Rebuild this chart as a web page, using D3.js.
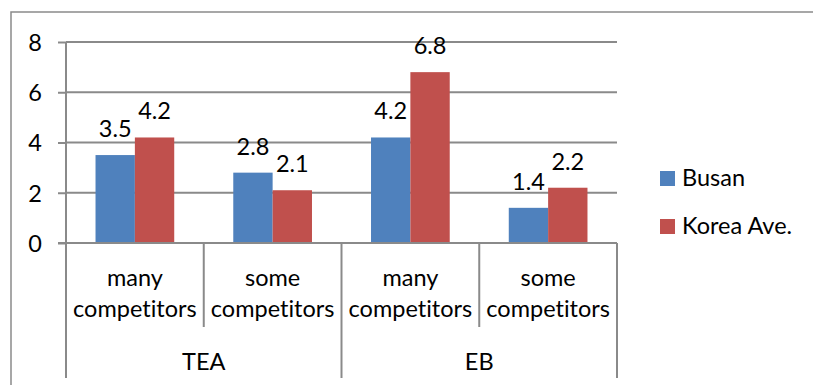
<!DOCTYPE html>
<html>
<head>
<meta charset="utf-8">
<script src="https://cdn.jsdelivr.net/npm/d3@7"></script>
<style>
  html, body { margin: 0; padding: 0; background: #fff; }
  svg { display: block; }
  text { font-family: Lato, "Open Sans", sans-serif; fill: #000; font-variant-ligatures: none; }
</style>
</head>
<body>
<svg id="chart" width="813" height="385"></svg>
<script>
// Chart data
const groups = ["TEA", "EB"];
const subLines = [["many", "competitors"], ["some", "competitors"], ["many", "competitors"], ["some", "competitors"]];
const categories = ["TEA|many", "TEA|some", "EB|many", "EB|some"];
const seriesNames = ["Busan", "Korea Ave."];
const busan = [3.5, 2.8, 4.2, 1.4];
const koreaAve = [4.2, 2.1, 6.8, 2.2];
const yTicks = [0, 2, 4, 6, 8];
const colors = ["#4F81BD", "#C0504D"];

const svg = d3.select("#chart");
const W = 813, H = 385;
const fontSize = 23.5;
const gridColor = "#8a8a8a";

// Chart frame
svg.append("rect")
  .attr("x", 11).attr("y", 12)
  .attr("width", W + 20).attr("height", H + 20)
  .attr("fill", "none").attr("stroke", gridColor).attr("stroke-width", 1.5);

const plot = { left: 66, right: 617, top: 42, bottom: 243 };

const x0 = d3.scaleBand().domain(categories).range([plot.left, plot.right]).padding(0);
const x1 = d3.scaleBand().domain(seriesNames).range([0, x0.bandwidth()])
  .paddingInner(0).paddingOuter(0.75);
const y = d3.scaleLinear().domain([0, 8]).range([plot.bottom, plot.top]);

// Horizontal gridlines
svg.append("g").selectAll("line").data(yTicks.filter(d => d > 0)).join("line")
  .attr("x1", plot.left).attr("x2", plot.right)
  .attr("y1", d => y(d)).attr("y2", d => y(d))
  .attr("stroke", gridColor).attr("stroke-width", 2);

// Value axis
const yAxis = svg.append("g")
  .attr("transform", `translate(${plot.left},0)`)
  .call(d3.axisLeft(y).tickValues(yTicks).tickSize(8).tickPadding(16).tickFormat(d3.format("d")));
yAxis.select(".domain").remove();
yAxis.selectAll(".tick line").attr("stroke", gridColor).attr("stroke-width", 2);
yAxis.selectAll(".tick text").attr("font-size", fontSize).attr("font-family", "Lato").attr("fill", "#000")
  .attr("dy", "0.36em");

// Bars
const rows = categories.map((c, i) => ({ cat: c, vals: [busan[i], koreaAve[i]] }));
const barG = svg.append("g").selectAll("g").data(rows).join("g")
  .attr("transform", d => `translate(${x0(d.cat)},0)`);

barG.selectAll("rect").data(d => d.vals.map((v, j) => ({ v, s: seriesNames[j], j }))).join("rect")
  .attr("x", d => x1(d.s))
  .attr("width", x1.bandwidth())
  .attr("y", d => y(d.v))
  .attr("height", d => y(0) - y(d.v))
  .attr("fill", d => colors[d.j]);

// Value labels
barG.selectAll("text").data(d => d.vals.map((v, j) => ({ v, s: seriesNames[j] }))).join("text")
  .attr("x", d => x1(d.s) + x1.bandwidth() / 2)
  .attr("y", d => y(d.v) - 18)
  .attr("text-anchor", "middle")
  .attr("font-size", fontSize)
  .text(d => d3.format(".1f")(d.v));

// Category axis baseline and value axis line
svg.append("line")
  .attr("x1", plot.left - 8).attr("x2", plot.right)
  .attr("y1", plot.bottom).attr("y2", plot.bottom)
  .attr("stroke", gridColor).attr("stroke-width", 2);
svg.append("line")
  .attr("x1", plot.left).attr("x2", plot.left)
  .attr("y1", plot.top).attr("y2", plot.bottom)
  .attr("stroke", gridColor).attr("stroke-width", 2);

// Multi-level category separators
const innerBottom = 327, outerBottom = 378;
const bounds = categories.map(c => x0(c)).concat([plot.right]);
svg.append("g").selectAll("line").data(bounds).join("line")
  .attr("x1", d => d).attr("x2", d => d)
  .attr("y1", plot.bottom)
  .attr("y2", (d, i) => (i % 2 === 0 ? outerBottom : innerBottom))
  .attr("stroke", gridColor).attr("stroke-width", 2);

// Sub-category labels (two lines)
const subG = svg.append("g").selectAll("text").data(categories).join("text")
  .attr("text-anchor", "middle")
  .attr("font-size", fontSize);
subG.each(function(c, i) {
  const t = d3.select(this);
  const cx = x0(c) + x0.bandwidth() / 2;
  subLines[i].forEach((line, k) => {
    t.append("tspan").attr("x", cx).attr("y", 286 + k * 31).text(line);
  });
});

// Group labels
svg.append("g").selectAll("text").data(groups).join("text")
  .attr("x", (g, i) => (x0(categories[i * 2]) + x0(categories[i * 2 + 1]) + x0.bandwidth()) / 2)
  .attr("y", 370)
  .attr("text-anchor", "middle")
  .attr("font-size", fontSize)
  .text(d => d);

// Legend
const legend = svg.append("g").selectAll("g").data(seriesNames).join("g")
  .attr("transform", (d, i) => `translate(660,${171 + i * 48})`);
legend.append("rect").attr("width", 15).attr("height", 15).attr("fill", (d, i) => colors[i]);
legend.append("text").attr("x", 22).attr("y", 15).attr("font-size", fontSize).text(d => d);
</script>
</body>
</html>
